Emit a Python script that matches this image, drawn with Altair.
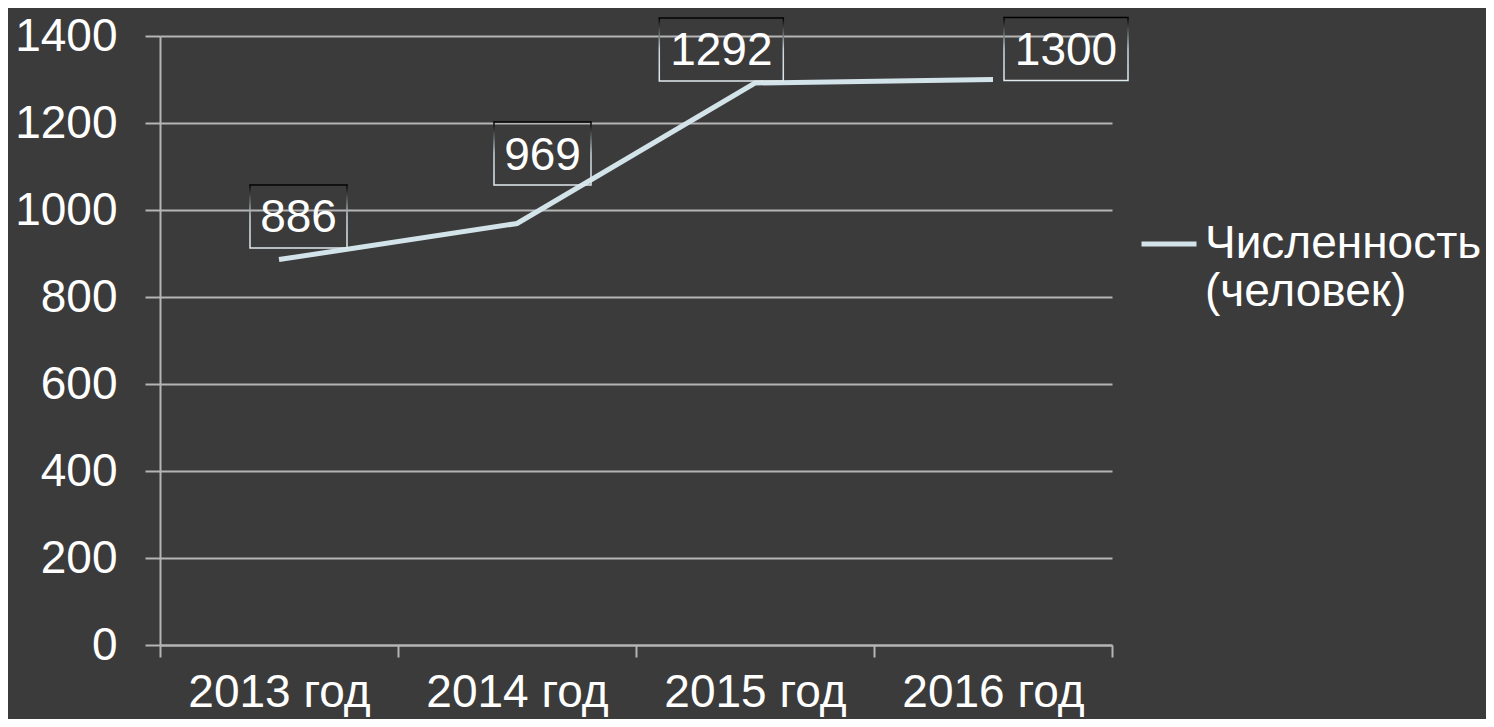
import altair as alt
import pandas as pd

# ---- data ----
years = ["2013 год", "2014 год", "2015 год", "2016 год"]
values = [886, 969, 1292, 1300]
series_name = "Численность (человек)"
y_ticks = [0, 200, 400, 600, 800, 1000, 1200, 1400]

df = pd.DataFrame({"year": years, "value": values, "series": [series_name] * len(years)})

# ---- style ----
FONT = "Liberation Sans"
FS = 46
BG = "#3b3b3b"
GRID = "#b5b5b5"
LINE = "#d3e3ea"

# label box placement (style only): dx, dy in px, half-width units
label_style = [
    (19.5, -43.2, 0.97),
    (25.5, -69.9, 0.97),
    (-33.7, -33.5, 1.24),
    (73.0, -30.5, 1.24),
]

x_enc = alt.X(
    "year:N",
    sort=years,
    bandPosition=0.5,
    scale=alt.Scale(type="band", paddingInner=0, paddingOuter=0),
    axis=alt.Axis(
        title=None,
        tickBand="extent",
        grid=False,
        domainColor=GRID,
        domainWidth=2,
        tickColor=GRID,
        tickWidth=2,
        tickSize=12,
        labelPadding=13,
        labelFont=FONT,
        labelFontSize=FS,
        labelColor="#ffffff",
        labelAngle=0,
        labelLimit=500,
        labelOverlap=False,
    ),
)
y_enc = alt.Y(
    "value:Q",
    scale=alt.Scale(domain=[0, 1400], nice=False),
    axis=alt.Axis(
        title=None,
        values=y_ticks,
        format="d",
        grid=True,
        gridColor=GRID,
        gridWidth=2,
        domainColor=GRID,
        domainWidth=2,
        tickColor=GRID,
        tickWidth=2,
        tickSize=15,
        labelPadding=28,
        labelFont=FONT,
        labelFontSize=FS,
        labelColor="#ffffff",
    ),
)

base = alt.Chart(df)

line = base.mark_line(strokeWidth=5).encode(
    x=x_enc,
    y=y_enc,
    color=alt.Color(
        "series:N",
        scale=alt.Scale(range=[LINE]),
        legend=alt.Legend(
            title=None,
            orient="none",
            legendX=979,
            legendY=178,
            padding=0,
            symbolType="M-1,0L1,0",
            symbolSize=3025,
            symbolStrokeWidth=5,
            labelFont=FONT,
            labelFontSize=46,
            labelColor="#ffffff",
            labelOffset=6,
            labelLimit=400,
            labelExpr="split(datum.label, ' ')",
        ),
    ),
)

grad = alt.LinearGradient(
    gradient="linear",
    stops=[
        alt.GradientStop(color="#000000", offset=0),
        alt.GradientStop(color="#c9d6dc", offset=0.5),
        alt.GradientStop(color="#dfe9ee", offset=1),
    ],
    x1=0, x2=0, y1=0, y2=1,
)

layers = [line]
for yr, (dx, dy, hw) in zip(years, label_style):
    sub = base.transform_filter(alt.datum.year == yr)
    box_path = f"M{-hw},-0.63L{hw},-0.63L{hw},0.63L{-hw},0.63Z"
    layers.append(
        sub.mark_point(
            shape=box_path,
            size=10000,
            filled=False,
            stroke=grad,
            strokeWidth=1.5,
            opacity=1,
            xOffset=dx,
            yOffset=dy,
        ).encode(x=x_enc, y=y_enc)
    )
    layers.append(
        sub.mark_text(
            font=FONT,
            fontSize=FS,
            color="#ffffff",
            dx=dx,
            dy=dy + 2,
            baseline="middle",
            align="center",
        ).encode(x=x_enc, y=y_enc, text=alt.Text("value:Q"))
    )

chart = (
    alt.layer(*layers)
    .properties(
        width=952,
        height=609,
        background=BG,
        autosize=alt.AutoSizeParams(type="none"),
        padding={"left": 152, "top": 28, "right": 374, "bottom": 74},
    )
    .configure_view(stroke=None)
)

chart.save("out.html", embed_options={"renderer": "svg", "actions": False})
